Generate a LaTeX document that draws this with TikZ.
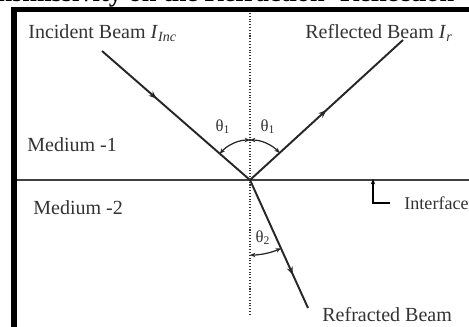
\documentclass[tikz,border=0pt]{standalone}
\usepackage{fontspec}
\setmainfont{Liberation Serif}
\usetikzlibrary{arrows.meta, decorations.markings, calc}

\begin{document}
\begin{tikzpicture}[x=0.02cm, y=0.02cm,
  beam/.style={line width=1.1pt, draw=black!85},
  midarrow/.style={postaction={decorate}, decoration={markings, mark=at position #1 with {\arrow{Stealth[length=4.5pt, width=3.5pt]}}}},
  anglearc/.style={line width=0.7pt, draw=black!85, {Stealth[length=3pt, width=2.5pt]}-{Stealth[length=3pt, width=2.5pt]}},
  lbl/.style={font=\fontsize{11.4}{13}\selectfont, text=black!80, inner sep=0pt, anchor=west},
  thetalbl/.style={font=\fontsize{9.5}{11}\selectfont, text=black!80, inner sep=0pt}]
  \useasboundingbox (0,0) rectangle (469,327);
  \clip (0,0) rectangle (469,327);

  % title line, cut off at the top
  \node[font=\bfseries\fontsize{15}{16}\selectfont, anchor=base west, inner sep=0pt] (title) at (-16, 325) {ansmissivity on the Refraction- Reflection};

  % frame
  \fill[black] (11,0) rectangle (17,320);
  \fill[black] (11,315) rectangle (469,320);

  % points
  \coordinate (O) at (250,147);
  \coordinate (inc) at (102,276);
  \coordinate (refl) at (403,287);
  \coordinate (refr) at (308,19);
  \coordinate (normtop) at (250,314);
  \coordinate (normbot) at (250,12);
  \coordinate (ifleft) at (17,147);
  \coordinate (ifright) at (469,147);

  % normal and interface
  \draw[densely dotted, line width=0.6pt, black!80] (normtop) -- (normbot);
  \draw[line width=1.6pt, black!75] (ifleft) -- (ifright);

  % beams
  \draw[beam, midarrow=0.37] (inc) -- (O);
  \draw[beam, midarrow=0.5] (O) -- (refl);
  \draw[beam, midarrow=0.74] (O) -- (refr);

  % angles
  \draw[anglearc] ($(O)+(139:40)$) arc[start angle=139, end angle=90, radius=40];
  \draw[anglearc] ($(O)+(90:40)$) arc[start angle=90, end angle=42.5, radius=40];
  \draw[anglearc] ($(O)+(270:75)$) arc[start angle=270, end angle=294.4, radius=75];
  \node[thetalbl] (th1a) at (223,200) {θ\textsubscript{1}};
  \node[thetalbl] (th1b) at (268,200) {θ\textsubscript{1}};
  \node[thetalbl] (th2) at (263,89) {θ\textsubscript{2}};

  % labels
  \node[lbl] (inclbl) at (28,294) {Incident Beam \textit{I}\textsubscript{\textit{Inc}}};
  \node[lbl] (refllbl) at (305,294) {Reflected Beam \textit{I}\textsubscript{\textit{r}}};
  \node[lbl] (med1) at (27,182) {Medium -1};
  \node[lbl] (med2) at (33,119) {Medium -2};
  \node[lbl, font=\fontsize{10.3}{12}\selectfont] (iflbl) at (404,124) {Interface};
  \node[lbl] (refrlbl) at (322,12) {Refracted Beam};

  % interface pointer
  \coordinate (iftip) at (373,148);
  \coordinate (ifcorner) at (373,124);
  \draw[line width=0.9pt, {Stealth[length=3pt, width=2.5pt]}-] (iftip) -- (ifcorner) -- (iflbl.west -| 390,0);
\end{tikzpicture}
\end{document}
